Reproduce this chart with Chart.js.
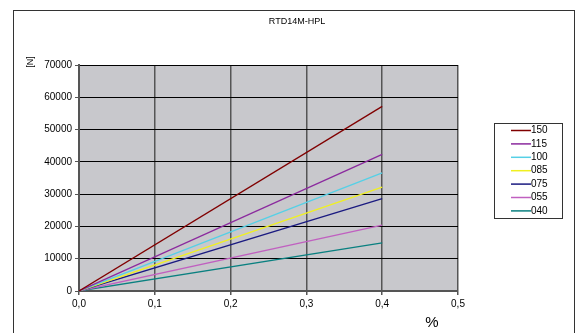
<!DOCTYPE html>
<html>
<head>
<meta charset="utf-8">
<script src="https://cdn.jsdelivr.net/npm/chart.js@4/dist/chart.umd.min.js"></script>
<style>
  html, body { margin: 0; padding: 0; background: #fff; }
  #wrap { width: 577px; height: 333px; }
</style>
</head>
<body>
<div id="wrap"><canvas id="chart-rtd"></canvas></div>
<script>
// data (force [N] at 0 % and 0,4 %)
const seriesNames = ['150', '115', '100', '085', '075', '055', '040'];
const strainPct = [0, 0.4];
const force150 = [0, 57200];
const force115 = [0, 42300];
const force100 = [0, 36600];
const force085 = [0, 32200];
const force075 = [0, 28600];
const force055 = [0, 20400];
const force040 = [0, 14900];
const seriesColors = ['#800000', '#8b2a9e', '#55d0e6', '#f0f020', '#1a1a80', '#c060c0', '#0a8080'];

const allForces = [force150, force115, force100, force085, force075, force055, force040];

const datasets = seriesNames.map((name, i) => ({
  label: name,
  data: strainPct.map((x, j) => ({ x: x, y: allForces[i][j] })),
  borderColor: seriesColors[i],
  backgroundColor: seriesColors[i],
  borderWidth: 1.3,
  pointRadius: 0,
  fill: false,
}));

const FONT = 'Liberation Sans, Arial, sans-serif';

// frame, plot background, title, axis labels and boxed legend
const decor = {
  id: 'decor',
  beforeDraw(chart) {
    const { ctx, chartArea: a } = chart;
    ctx.save();
    ctx.fillStyle = '#fff';
    ctx.fillRect(0, 0, chart.width, chart.height);
    ctx.strokeStyle = '#333';
    ctx.lineWidth = 1;
    ctx.strokeRect(13.5, 10.5, 561, 340);
    ctx.fillStyle = '#c8c8cc';
    ctx.fillRect(a.left, a.top, a.right - a.left, a.bottom - a.top);
    ctx.restore();
  },
  afterDraw(chart) {
    const { ctx } = chart;
    ctx.save();
    ctx.fillStyle = '#000';
    ctx.textBaseline = 'middle';
    ctx.textAlign = 'center';
    ctx.font = '9px ' + FONT;
    ctx.fillText('RTD14M-HPL', 297, 22);

    ctx.save();
    ctx.translate(31, 62);
    ctx.rotate(-Math.PI / 2);
    ctx.fillText('[N]', 0, 0);
    ctx.restore();

    ctx.font = '15px ' + FONT;
    ctx.fillText('%', 432, 323);

    // legend
    ctx.strokeStyle = '#333';
    ctx.lineWidth = 1;
    ctx.strokeRect(494.5, 123.5, 68, 95);
    ctx.font = '10px ' + FONT;
    ctx.textAlign = 'left';
    chart.data.datasets.forEach((ds, i) => {
      const y = 130.5 + i * 13.4;
      ctx.strokeStyle = ds.borderColor;
      ctx.lineWidth = 1.5;
      ctx.beginPath();
      ctx.moveTo(511, y);
      ctx.lineTo(531, y);
      ctx.stroke();
      ctx.fillStyle = '#000';
      ctx.fillText(ds.label, 531, y);
    });
    ctx.restore();
  }
};

new Chart(document.getElementById('chart-rtd').getContext('2d'), {
  type: 'line',
  data: { datasets: datasets },
  options: {
    responsive: true,
    maintainAspectRatio: false,
    animation: false,
    layout: { padding: { left: 0, top: 65, right: 119, bottom: 0 } },
    plugins: {
      legend: { display: false },
      title: { display: false },
      tooltip: { enabled: false },
    },
    scales: {
      x: {
        type: 'linear',
        min: 0,
        max: 0.5,
        ticks: {
          stepSize: 0.1,
          color: '#000',
          font: { family: FONT, size: 10 },
          padding: 3,
          maxRotation: 0,
          callback: (v) => v.toFixed(1).replace('.', ','),
        },
        grid: { color: '#555', lineWidth: 1.5, tickLength: 4, tickColor: '#555' },
        border: { color: '#555', width: 2 },
        afterFit: (scale) => { scale.height = 42; },
      },
      y: {
        min: 0,
        max: 70000,
        ticks: {
          stepSize: 10000,
          color: '#000',
          font: { family: FONT, size: 10 },
          padding: 3,
          callback: (v) => String(v),
        },
        grid: { color: '#000', lineWidth: 1, tickLength: 4, tickColor: '#555' },
        border: { color: '#555', width: 2 },
        afterFit: (scale) => { scale.width = 79; },
      },
    },
  },
  plugins: [decor],
});
</script>
</body>
</html>
